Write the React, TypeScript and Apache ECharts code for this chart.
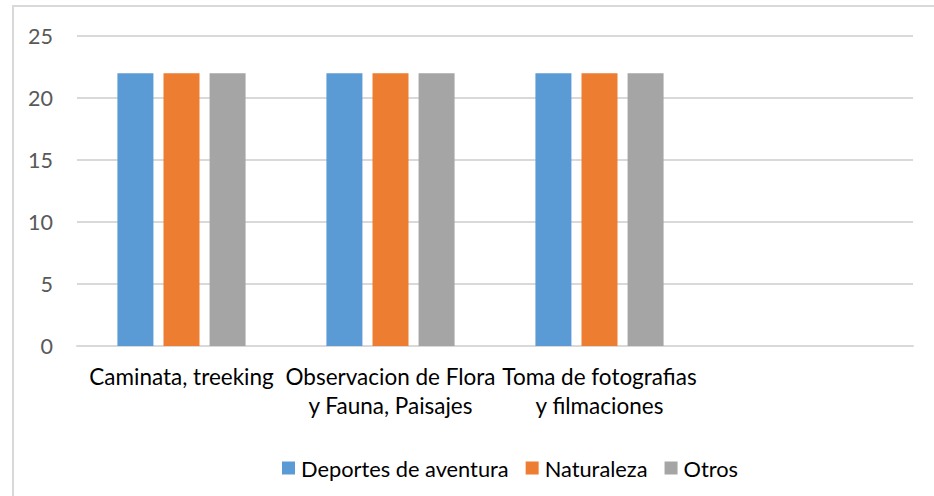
import React, { useEffect, useRef } from "react";
import * as echarts from "echarts";

const categories = [
  "Caminata, treeking",
  "Observacion de Flora\ny Fauna, Paisajes",
  "Toma de fotografias\ny filmaciones",
  "",
];
const seriesNames = ["Deportes de aventura", "Naturaleza", "Otros"];
const deportesValues = [22, 22, 22, null];
const naturalezaValues = [22, 22, 22, null];
const otrosValues = [22, 22, 22, null];
const colors = ["#5B9BD5", "#ED7D31", "#A5A5A5"];

const FONT = "Lato";

export default function App() {
  const ref = useRef<HTMLDivElement>(null);
  useEffect(() => {
    if (!ref.current) return;
    const chart = echarts.init(ref.current, null, { renderer: "svg" });
    const values = [deportesValues, naturalezaValues, otrosValues];
    chart.setOption({
      animation: false,
      backgroundColor: "#ffffff",
      textStyle: { fontFamily: FONT },
      graphic: [
        {
          type: "rect",
          shape: { x: 13, y: 6, width: 1000, height: 700 },
          style: { fill: "none", stroke: "#d9d9d9", lineWidth: 2 },
          silent: true,
        },
      ],
      grid: { left: 77, right: 21, top: 36, bottom: 150 },
      legend: {
        left: 277,
        top: 452,
        itemWidth: 13,
        itemHeight: 13,
        itemGap: 17,
        icon: "rect",
        textStyle: { fontFamily: FONT, fontSize: 21.8, color: "#000000", padding: [0, 0, 0, 1] },
        data: seriesNames,
      },
      xAxis: {
        type: "category",
        data: categories,
        axisLine: { lineStyle: { color: "#d9d9d9", width: 2 } },
        axisTick: { show: false },
        axisLabel: {
          interval: 0,
          margin: 16,
          fontFamily: FONT,
          fontSize: 22.5,
          lineHeight: 29,
          color: "#000000",
          align: "center",
        },
      },
      yAxis: {
        type: "value",
        min: 0,
        max: 25,
        interval: 5,
        axisLine: { show: false },
        axisTick: { show: false },
        splitLine: { lineStyle: { color: "#d9d9d9", width: 2 } },
        axisLabel: { margin: 24, fontFamily: FONT, fontSize: 21.5, color: "#595959" },
      },
      series: seriesNames.map((name, i) => ({
        name,
        type: "bar",
        data: values[i],
        barWidth: 36,
        barGap: "28%",
        itemStyle: { color: colors[i] },
      })),
    });
    return () => chart.dispose();
  }, []);
  return (
    <div
      ref={ref}
      style={{ position: "fixed", left: 0, top: 0, width: 934, height: 496 }}
    />
  );
}
